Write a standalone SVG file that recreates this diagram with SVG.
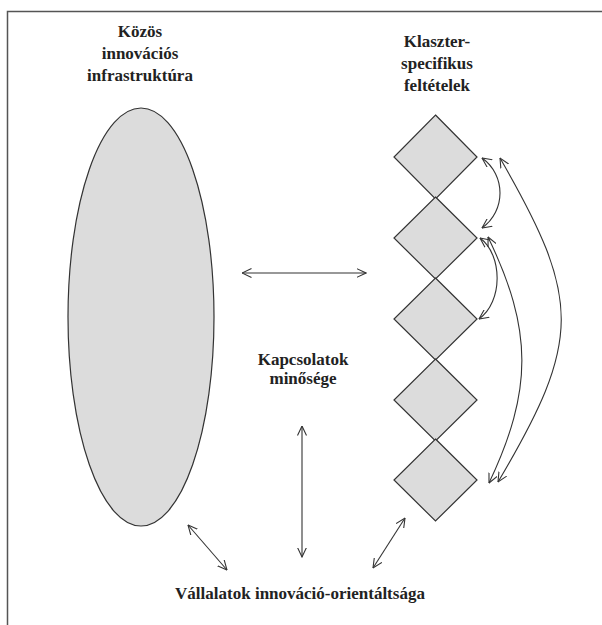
<svg xmlns="http://www.w3.org/2000/svg" width="602" height="625" viewBox="0 0 602 625">
<style>
.shape{fill:#dcdcdc;stroke:#333;stroke-width:1.2}
.lbl{font-family:"Liberation Serif","Times New Roman","DejaVu Serif",serif;font-weight:bold;font-size:17px;fill:#222;text-anchor:middle}
.con{fill:none;stroke:#333;stroke-width:1.1;marker-start:url(#ah);marker-end:url(#ah)}
</style>
<defs>
<marker id="ah" viewBox="0 0 10 10" refX="9.5" refY="5" markerWidth="10" markerHeight="10" markerUnits="userSpaceOnUse" orient="auto-start-reverse">
<path d="M0,0.5 L9.5,5 L0,9.5" fill="none" stroke="#333" stroke-width="1.1"/>
</marker>
</defs>
<rect width="602" height="625" fill="#fff"/>
<g id="frame" fill="none" stroke="#555" stroke-width="1.5">
<path d="M7.5,625 V11.5 H602"/>
</g>
<g id="infra">
<ellipse class="shape" cx="141" cy="317" rx="73" ry="209"/>
<text class="lbl" x="140" y="37">Közös</text>
<text class="lbl" x="140" y="59">innovációs</text>
<text class="lbl" x="140" y="81">infrastruktúra</text>
</g>
<g id="klaszter">
<text class="lbl" x="437" y="47">Klaszter-</text>
<text class="lbl" x="437" y="69">specifikus</text>
<text class="lbl" x="437" y="91">feltételek</text>
</g>
<g id="d1"><path class="shape" d="M435.5,115 L477,157 L435.5,199 L394,157 Z"/></g>
<g id="d2"><path class="shape" d="M435.5,197 L477,238 L435.5,279 L394,238 Z"/></g>
<g id="d3"><path class="shape" d="M435.5,278 L477,319 L435.5,360 L394,319 Z"/></g>
<g id="d4"><path class="shape" d="M435.5,359 L477,400 L435.5,441 L394,400 Z"/></g>
<g id="d5"><path class="shape" d="M435.5,439 L477,480 L435.5,521 L394,480 Z"/></g>
<g id="kapcsolatok">
<text class="lbl" x="303" y="365">Kapcsolatok</text>
<text class="lbl" x="303" y="384">minősége</text>
</g>
<g id="vallalatok">
<text class="lbl" x="300" y="599">Vállalatok innováció-orientáltsága</text>
</g>
<g id="connectors">
<path class="con" d="M242,273 H366"/>
<path class="con" d="M302,426 V557"/>
<path class="con" d="M188,525 L227,570"/>
<path class="con" d="M405,518 L373,568"/>
<path class="con" d="M482,158 C506,175 506,211 482,228"/>
<path class="con" d="M480,238 C503,255 503,302 479,319"/>
<path class="con" d="M488,237 C533,330 533,390 489,483"/>
<path class="con" d="M500,158 C582,300 582,340 498,482"/>
</g>
</svg>
